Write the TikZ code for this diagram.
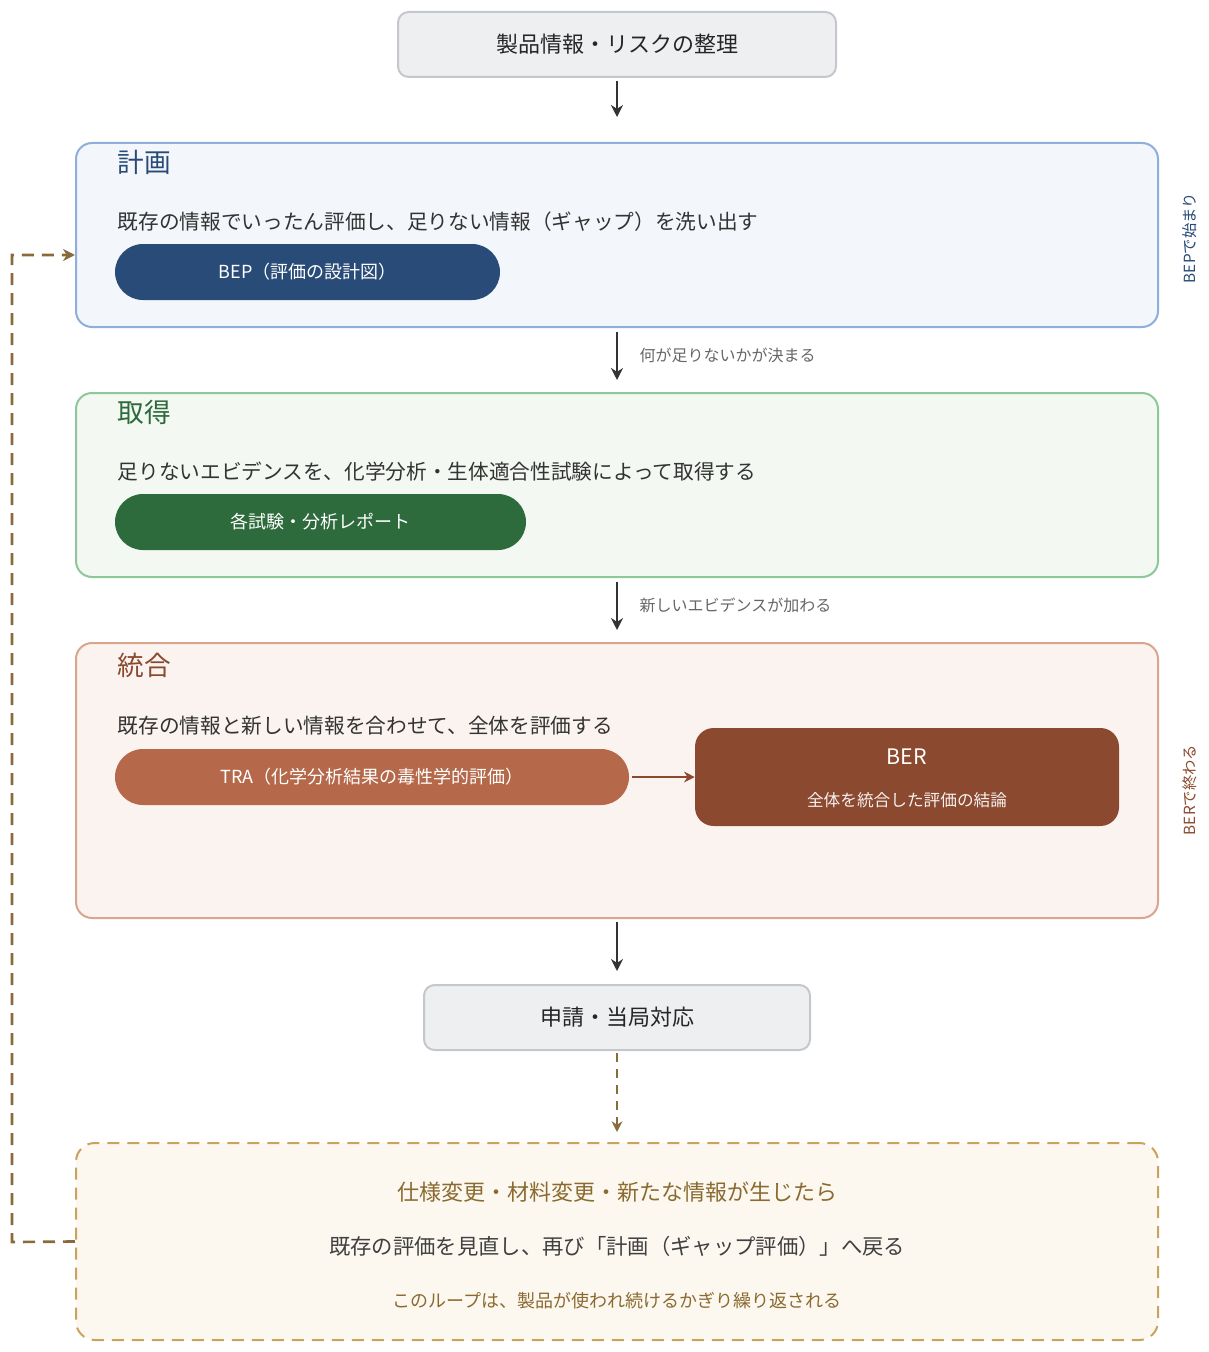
\documentclass[tikz,border=0pt]{standalone}
\usepackage{fontspec}
\setmainfont{Noto Sans CJK JP}
\usetikzlibrary{arrows.meta}
\definecolor{dk}{HTML}{333333}
\definecolor{gbd}{HTML}{C4C7CC}\definecolor{gfl}{HTML}{EEEFF1}
\definecolor{pbd}{HTML}{8EAEDB}\definecolor{pfl}{HTML}{F3F6FB}\definecolor{pdk}{HTML}{284B77}
\definecolor{abd}{HTML}{8DC79A}\definecolor{afl}{HTML}{F3F8F3}\definecolor{adk}{HTML}{2E6B3C}
\definecolor{ibd}{HTML}{D9A58F}\definecolor{ifl}{HTML}{FAF3F0}\definecolor{idk}{HTML}{8B4A2F}\definecolor{imd}{HTML}{B5694A}
\definecolor{fbd}{HTML}{C9A35C}\definecolor{ffl}{HTML}{FCF8F0}\definecolor{ftx}{HTML}{8B6A30}\definecolor{lp}{HTML}{8B6A3A}
\definecolor{lbl}{HTML}{666666}
\begin{document}
\begin{tikzpicture}[x=0.75pt,y=-0.75pt,
 gbox/.style={draw=gbd,fill=gfl,line width=1.5pt,rounded corners=8pt,text=black!85,font=\fontsize{16.5}{20}\selectfont},
 stage/.style={draw=#1,line width=1.5pt,rounded corners=12pt,minimum width=811.5pt},
 pill/.style={fill=#1,rounded corners=21pt,minimum height=42pt,text=white,font=\fontsize{13.5}{16}\selectfont},
 ttl/.style={anchor=west,font=\fontsize{20}{24}\selectfont},
 body/.style={anchor=west,text=black!80,font=\fontsize{15.5}{19}\selectfont},
 lab/.style={anchor=west,text=lbl,font=\fontsize{12}{14}\selectfont},
 side/.style={rotate=90,font=\fontsize{11.5}{14}\selectfont},
 arr/.style={dk,line width=2.2pt,-{Stealth[length=9pt,width=9pt]}}]
\useasboundingbox (0,0) rectangle (1208,1352);
\node[gbox,minimum width=328.5pt,minimum height=48.75pt] (top) at (617,44.5) {製品情報・リスクの整理};
\node[stage=pbd,fill=pfl,minimum height=138pt] (plan) at (617,235) {};
\node[ttl,text=pdk] (pt) at (113,162) {計画};
\node[body] (pb) at (113,222) {既存の情報でいったん評価し、足りない情報（ギャップ）を洗い出す};
\node[pill=pdk,minimum width=288.75pt] (pp) at (307.5,272) {BEP（評価の設計図）};
\node[stage=abd,fill=afl,minimum height=138pt] (acq) at (617,485) {};
\node[ttl,text=adk] (at) at (113,412) {取得};
\node[body] (ab) at (113,472) {足りないエビデンスを、化学分析・生体適合性試験によって取得する};
\node[pill=adk,minimum width=308.25pt] (ap) at (320.5,522) {各試験・分析レポート};
\node[stage=ibd,fill=ifl,minimum height=206.25pt] (int) at (617,780.5) {};
\node[ttl,text=idk] (it) at (113,665) {統合};
\node[body] (ib) at (113,726) {既存の情報と新しい情報を合わせて、全体を評価する};
\node[pill=imd,minimum width=385.5pt] (tra) at (372,777) {TRA（化学分析結果の毒性学的評価）};
\node[fill=idk,rounded corners=14pt,minimum width=318pt,minimum height=73.5pt] (ber) at (907,777) {};
\node[text=white,font=\fontsize{16}{19}\selectfont] (bt) at (907,757) {BER};
\node[text=white!92!idk,font=\fontsize{12.5}{15}\selectfont] (bs) at (907,800) {全体を統合した評価の結論};
\node[gbox,minimum width=289.5pt,minimum height=48.75pt] (sub) at (617,1017.5) {申請・当局対応};
\node[draw=fbd,fill=ffl,line width=1.5pt,dash pattern=on 9pt off 6pt,rounded corners=14pt,minimum width=811.5pt,minimum height=147.75pt] (foot) at (617,1241.5) {};
\node[text=ftx,font=\fontsize{16.5}{20}\selectfont] (f1) at (617,1192) {仕様変更・材料変更・新たな情報が生じたら};
\node[text=black!75,font=\fontsize{16}{20}\selectfont] (f2) at (617,1246) {既存の評価を見直し、再び「計画（ギャップ評価）」へ戻る};
\node[text=ftx,font=\fontsize{13.5}{16}\selectfont] (f3) at (617,1301) {このループは、製品が使われ続けるかぎり繰り返される};
\node[side,text=pdk] (s1) at (1190,238) {BEPで始まり};
\node[side,text=idk] (s2) at (1190,790) {BERで終わる};
\draw[arr] (top.south)++(0,3) -- ++(0,36);
\draw[arr] (617,332) -- (617,380);
\node[lab] (l1) at (635,355) {何が足りないかが決まる};
\draw[arr] (617,582) -- (617,630);
\node[lab] (l2) at (635,605) {新しいエビデンスが加わる};
\draw[idk,line width=2pt,-{Stealth[length=8pt,width=8pt]}] (tra.east)++(3,0) -- (ber.west);
\draw[arr] (617,922) -- (617,971);
\draw[lp,line width=2pt,dash pattern=on 7pt off 5pt,-{Stealth[length=8pt,width=8pt]}] (sub.south)++(0,2) -- (617,1132);
\coordinate (c1) at (12,1242);
\coordinate (c2) at (12,255);
\draw[lp,line width=2pt,dash pattern=on 9pt off 6pt,-{Stealth[length=9pt,width=9pt]}] (foot.west) -- (c1) -- (c2) -- (plan.west|-c2);
\end{tikzpicture}
\end{document}
